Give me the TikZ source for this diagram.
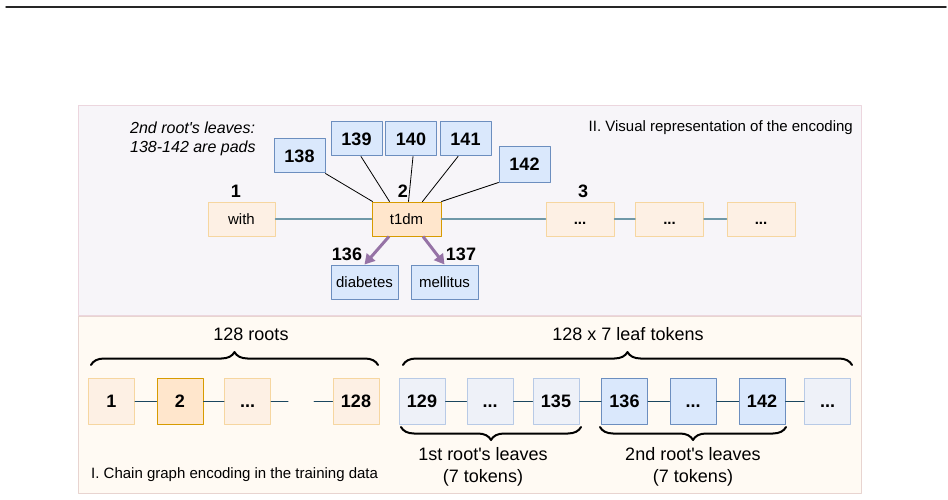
\documentclass[tikz,border=0pt]{standalone}
\usepackage{fontspec}
\setmainfont{Liberation Sans}
\usetikzlibrary{arrows.meta,decorations.pathreplacing}
\definecolor{topfill}{RGB}{247,245,249}
\definecolor{topline}{RGB}{236,214,222}
\definecolor{lowfill}{RGB}{255,250,243}
\definecolor{lowline}{RGB}{232,212,208}
\definecolor{rootfill}{RGB}{253,240,228}
\definecolor{rootline}{RGB}{246,214,160}
\definecolor{selfill}{RGB}{255,230,204}
\definecolor{selline}{RGB}{215,155,0}
\definecolor{leaffill}{RGB}{218,232,252}
\definecolor{leafline}{RGB}{108,142,191}
\definecolor{padfill}{RGB}{238,241,248}
\definecolor{padline}{RGB}{184,202,230}
\definecolor{chaintop}{RGB}{111,152,168}
\definecolor{chainlow}{RGB}{26,70,95}
\definecolor{arrpurple}{RGB}{150,115,166}
\def\q{\textquotesingle}
\begin{document}
\begin{tikzpicture}[x=1pt,y=-1pt, line join=round, line cap=round,
	font=\fontsize{15}{18}\selectfont,
	tok/.style={draw=rootline, fill=rootfill, line width=1pt, inner sep=0pt, minimum width=67pt, minimum height=34pt, text height=10.7pt, text depth=0pt},
	toksel/.style={tok, draw=selline, fill=selfill},
	leaf/.style={tok, draw=leafline, fill=leaffill},
	pad/.style={leaf, minimum width=51pt, text height=12.9pt, font=\fontsize{18}{20}\selectfont\bfseries},
	sq/.style={draw=rootline, fill=rootfill, line width=1pt, inner sep=0pt, minimum size=46pt, text height=12.9pt, text depth=0pt, font=\fontsize{18}{20}\selectfont\bfseries},
	sqsel/.style={sq, draw=selline, fill=selfill},
	sqleaf/.style={sq, draw=leafline, fill=leaffill},
	sqpad/.style={sq, draw=padline, fill=padfill},
	num/.style={font=\fontsize{18}{20}\selectfont\bfseries, inner sep=0pt},
	big/.style={font=\fontsize{18}{22}\selectfont, align=center, inner sep=0pt},
	brc/.style={decorate, decoration={brace, amplitude=13pt}, line width=2pt}]
	\useasboundingbox (0,0) rectangle (948,500);
	\draw[line width=1.5pt, black!85] (6,7)--(946,7);
	% panels
	\draw[topline, fill=topfill] (78,105) rectangle (861,315);
	\draw[lowline, fill=lowfill] (78,316) rectangle (861,493);
	% II. visual representation
	\node[anchor=east, inner sep=0pt] (ttlTop) at (853,128) {II. Visual representation of the encoding};
	\node[anchor=west, align=left, inner sep=0pt, font=\fontsize{16}{18.5}\selectfont\itshape] (note) at (130,139) {2nd root\q s leaves:\\138-142 are pads};
	\node[tok] (rWith) at (241.5,219) {with};
	\node[toksel, minimum width=69pt] (rT1dm) at (406.5,219) {t1dm};
	\node[tok, minimum width=68pt] (rDotA) at (580,219) {\textbf{...}};
	\node[tok, minimum width=68pt] (rDotB) at (669.5,219) {\textbf{...}};
	\node[tok, minimum width=68pt] (rDotC) at (761,219) {\textbf{...}};
	\node[pad] (p138) at (299.5,156) {138};
	\node[pad] (p139) at (356.5,139) {139};
	\node[pad] (p140) at (411,139) {140};
	\node[pad] (p141) at (465.5,139) {141};
	\node[pad, minimum height=35pt] (p142) at (524.5,164.5) {142};
	\node[leaf] (lDiab) at (364.5,282) {diabetes};
	\node[leaf] (lMell) at (444.5,282) {mellitus};
	\node[num] (n1) at (236,191) {1};
	\node[num] (n2) at (403,191) {2};
	\node[num] (n3) at (583,191) {3};
	\node[num] (n136) at (347,254) {136};
	\node[num] (n137) at (461,254) {137};
	\draw[chaintop, line width=1.5pt] (rWith)--(rT1dm) (rT1dm)--(rDotA) (rDotA)--(rDotB) (rDotB)--(rDotC);
	\draw[line width=.8pt] (p138.south east)--([xshift=1pt]rT1dm.north west);
	\draw[line width=.8pt] ([xshift=4.5pt]p139.south)--([xshift=18pt]rT1dm.north west);
	\draw[line width=.8pt] ([xshift=2pt]p140.south)--([xshift=37pt]rT1dm.north west);
	\draw[line width=.8pt] ([xshift=-7.5pt]p141.south)--([xshift=51pt]rT1dm.north west);
	\draw[line width=.8pt] (p142.south west)--(rT1dm.north east);
	\draw[arrpurple, line width=3pt, line cap=butt, -{Triangle[length=10pt,width=11pt]}] ([xshift=-17.5pt]rT1dm.south)--(lDiab.north);
	\draw[arrpurple, line width=3pt, line cap=butt, -{Triangle[length=10pt,width=11pt]}] ([xshift=16.5pt]rT1dm.south)--(lMell.north);
	% I. chain graph encoding
	\node[big] (lblRoots) at (251,334) {128 roots};
	\node[big] (lblLeaves) at (628,334) {128 x 7 leaf tokens};
	\node[sq] (c1) at (111.5,401) {1};
	\node[sqsel] (c2) at (180,401) {2};
	\node[sq] (cDots) at (247.5,401) {...};
	\node[sq] (c128) at (356,401) {128};
	\coordinate (cGapA) at (288,401);
	\coordinate (cGapB) at (314,401);
	\node[sqpad] (t129) at (422,401) {129};
	\node[sqpad] (tDotA) at (490,401) {...};
	\node[sqpad] (t135) at (556,401) {135};
	\node[sqleaf] (t136) at (624.5,401) {136};
	\node[sqleaf] (tDotB) at (693,401) {...};
	\node[sqleaf] (t142) at (762,401) {142};
	\node[sqpad] (tDotC) at (827.5,401) {...};
	\draw[chainlow, line width=1pt] (c1)--(c2) (c2)--(cDots) (cDots)--(cGapA) (cGapB)--(c128);
	\draw[chainlow, line width=1pt] (t129)--(tDotA) (tDotA)--(t135) (t135)--(t136) (t136)--(tDotB) (tDotB)--(t142) (t142)--(tDotC);
	\draw[brc] (91,365)--(378,365);
	\draw[brc] (403,365)--(852,365);
	\draw[brc] (581,427)--(401,427);
	\draw[brc] (786,427)--(600,427);
	\node[big] (lblFirst) at (483,467) {1st root\q s leaves\\(7 tokens)};
	\node[big] (lblSecond) at (693,467) {2nd root\q s leaves\\(7 tokens)};
	\node[anchor=west, inner sep=0pt] (ttlLow) at (91,475) {I. Chain graph encoding in the training data};
\end{tikzpicture}
\end{document}
